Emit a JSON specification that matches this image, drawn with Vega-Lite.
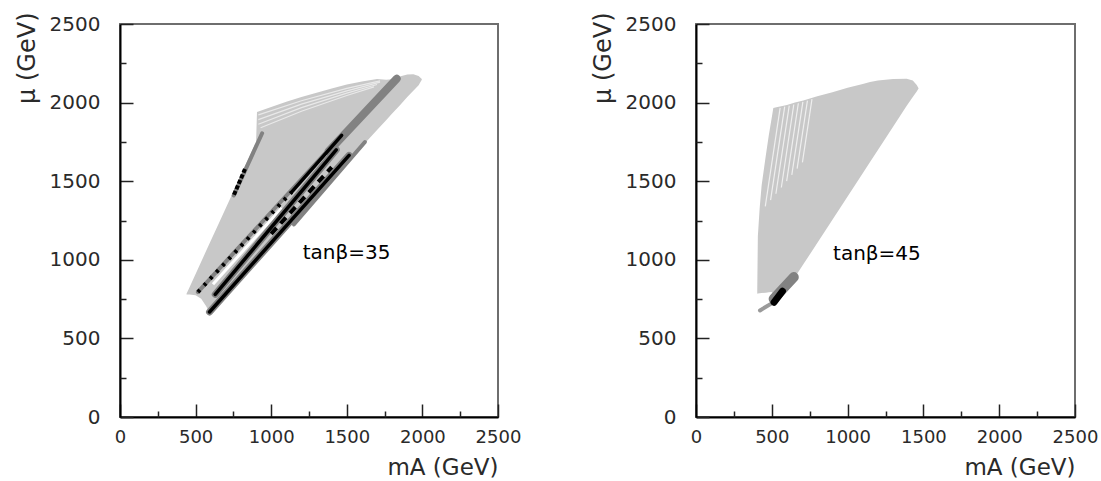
{
  "$schema": "https://vega.github.io/schema/vega-lite/v6.json",
  "padding": {"left": 14, "top": 10, "right": 5, "bottom": 5},
  "spacing": 68,
  "config": {
    "view": {"stroke": "#6e6e6e", "strokeWidth": 2},
    "font": "DejaVu Sans",
    "axis": {"grid": false, "domainColor": "#000", "domainWidth": 2, "tickColor": "#222", "tickWidth": 1.5, "labelFont": "DejaVu Sans", "labelColor": "#2a2a2a", "titleFont": "DejaVu Sans", "titleFontWeight": "normal", "titleColor": "#2a2a2a"}
  },
  "datasets": {
    "area35": [
      {"x": 440, "lo": 780, "hi": 784}, {"x": 460, "lo": 779, "hi": 826}, {"x": 500, "lo": 775, "hi": 910},
      {"x": 537, "lo": 752, "hi": 988}, {"x": 570, "lo": 705, "hi": 1057}, {"x": 592, "lo": 662, "hi": 1103},
      {"x": 650, "lo": 722, "hi": 1225}, {"x": 700, "lo": 775, "hi": 1330}, {"x": 760, "lo": 838, "hi": 1455},
      {"x": 800, "lo": 880, "hi": 1540}, {"x": 850, "lo": 932, "hi": 1645}, {"x": 900, "lo": 985, "hi": 1750},
      {"x": 906, "lo": 991, "hi": 1940}, {"x": 1000, "lo": 1090, "hi": 1972}, {"x": 1100, "lo": 1195, "hi": 2005},
      {"x": 1200, "lo": 1300, "hi": 2035}, {"x": 1300, "lo": 1405, "hi": 2063}, {"x": 1400, "lo": 1510, "hi": 2090},
      {"x": 1500, "lo": 1615, "hi": 2115}, {"x": 1600, "lo": 1720, "hi": 2135}, {"x": 1700, "lo": 1825, "hi": 2150},
      {"x": 1760, "lo": 1888, "hi": 2145}, {"x": 1800, "lo": 1930, "hi": 2148}, {"x": 1850, "lo": 1982, "hi": 2166},
      {"x": 1900, "lo": 2035, "hi": 2178}, {"x": 1940, "lo": 2075, "hi": 2181}, {"x": 1975, "lo": 2110, "hi": 2170},
      {"x": 1996, "lo": 2145, "hi": 2150}
    ],
    "area45": [
      {"x": 404, "lo": 784, "hi": 800}, {"x": 408, "lo": 785, "hi": 1150}, {"x": 420, "lo": 787, "hi": 1330},
      {"x": 433, "lo": 789, "hi": 1474}, {"x": 460, "lo": 791, "hi": 1660}, {"x": 480, "lo": 793, "hi": 1790},
      {"x": 499, "lo": 795, "hi": 1900}, {"x": 510, "lo": 783, "hi": 1966}, {"x": 530, "lo": 768, "hi": 1970},
      {"x": 554, "lo": 755, "hi": 1975}, {"x": 600, "lo": 800, "hi": 1985}, {"x": 653, "lo": 890, "hi": 2000},
      {"x": 708, "lo": 971, "hi": 2014}, {"x": 800, "lo": 1107, "hi": 2040}, {"x": 900, "lo": 1255, "hi": 2066},
      {"x": 1000, "lo": 1403, "hi": 2095}, {"x": 1100, "lo": 1551, "hi": 2118}, {"x": 1148, "lo": 1622, "hi": 2131},
      {"x": 1200, "lo": 1699, "hi": 2140}, {"x": 1300, "lo": 1847, "hi": 2150}, {"x": 1390, "lo": 1980, "hi": 2152},
      {"x": 1430, "lo": 2035, "hi": 2140}, {"x": 1456, "lo": 2070, "hi": 2112}, {"x": 1468, "lo": 2090, "hi": 2092}
    ],
    "seg35": [
      {"s": "gap", "g": "a0", "x": 915, "y": 1922}, {"s": "gap", "g": "a0", "x": 1200, "y": 2012}, {"s": "gap", "g": "a0", "x": 1500, "y": 2090}, {"s": "gap", "g": "a0", "x": 1720, "y": 2138},
      {"s": "gap", "g": "a1", "x": 915, "y": 1892}, {"s": "gap", "g": "a1", "x": 1200, "y": 1990}, {"s": "gap", "g": "a1", "x": 1500, "y": 2075}, {"s": "gap", "g": "a1", "x": 1720, "y": 2130},
      {"s": "gap", "g": "a2", "x": 915, "y": 1862}, {"s": "gap", "g": "a2", "x": 1200, "y": 1968}, {"s": "gap", "g": "a2", "x": 1500, "y": 2060}, {"s": "gap", "g": "a2", "x": 1700, "y": 2115},
      {"s": "gap", "g": "a3", "x": 930, "y": 1840}, {"s": "gap", "g": "a3", "x": 1200, "y": 1945}, {"s": "gap", "g": "a3", "x": 1500, "y": 2045}, {"s": "gap", "g": "a3", "x": 1680, "y": 2100},
      {"s": "gap2", "g": "w1", "x": 615, "y": 845}, {"s": "gap2", "g": "w1", "x": 1070, "y": 1330},
      {"s": "dgu", "g": "u2", "x": 630, "y": 780}, {"s": "dgu", "g": "u2", "x": 1430, "y": 1700},
      {"s": "dgu", "g": "u3", "x": 592, "y": 668}, {"s": "dgu", "g": "u3", "x": 1515, "y": 1664},
      {"s": "dgt", "g": "u1", "x": 515, "y": 795}, {"s": "dgt", "g": "u1", "x": 1466, "y": 1792},
      {"s": "dg", "g": "g3", "x": 752, "y": 1410}, {"s": "dg", "g": "g3", "x": 940, "y": 1805},
      {"s": "dg", "g": "g1", "x": 1150, "y": 1225}, {"s": "dg", "g": "g1", "x": 1620, "y": 1749},
      {"s": "dgw", "g": "g2", "x": 1380, "y": 1690}, {"s": "dgw", "g": "g2", "x": 1830, "y": 2152},
      {"s": "bk", "g": "b2", "x": 630, "y": 780}, {"s": "bk", "g": "b2", "x": 1430, "y": 1700},
      {"s": "bk", "g": "b3", "x": 592, "y": 668}, {"s": "bk", "g": "b3", "x": 1515, "y": 1664},
      {"s": "bk", "g": "b1u", "x": 1135, "y": 1431}, {"s": "bk", "g": "b1u", "x": 1466, "y": 1792},
      {"s": "d1", "g": "b1l", "x": 515, "y": 795}, {"s": "d1", "g": "b1l", "x": 1135, "y": 1431},
      {"s": "d2", "g": "k3", "x": 754, "y": 1414}, {"s": "d2", "g": "k3", "x": 830, "y": 1585},
      {"s": "d3", "g": "m", "x": 1000, "y": 1165}, {"s": "d3", "g": "m", "x": 1400, "y": 1590}
    ],
    "seg45": [
      {"s": "gap", "g": "c1", "x": 457, "y": 1340}, {"s": "gap", "g": "c1", "x": 555, "y": 1967},
      {"s": "gap", "g": "c2", "x": 492, "y": 1380}, {"s": "gap", "g": "c2", "x": 585, "y": 1974},
      {"s": "gap", "g": "c3", "x": 527, "y": 1420}, {"s": "gap", "g": "c3", "x": 615, "y": 1981},
      {"s": "gap", "g": "c4", "x": 563, "y": 1460}, {"s": "gap", "g": "c4", "x": 645, "y": 1988},
      {"s": "gap", "g": "c5", "x": 598, "y": 1500}, {"s": "gap", "g": "c5", "x": 675, "y": 1996},
      {"s": "gap", "g": "c6", "x": 632, "y": 1540}, {"s": "gap", "g": "c6", "x": 705, "y": 2005},
      {"s": "gap", "g": "c7", "x": 667, "y": 1580}, {"s": "gap", "g": "c7", "x": 735, "y": 2013},
      {"s": "gap", "g": "c8", "x": 702, "y": 1620}, {"s": "gap", "g": "c8", "x": 765, "y": 2022},
      {"s": "tail", "g": "t", "x": 422, "y": 678}, {"s": "tail", "g": "t", "x": 505, "y": 726},
      {"s": "dgw", "g": "g", "x": 512, "y": 752}, {"s": "dgw", "g": "g", "x": 645, "y": 890},
      {"s": "bk", "g": "b", "x": 515, "y": 730}, {"s": "bk", "g": "b", "x": 570, "y": 800}
    ],
    "labels": [
      {"p": "35", "x": 1208, "y": 1046, "t": "tanβ=35"},
      {"p": "45", "x": 904, "y": 1040, "t": "tanβ=45"}
    ]
  },
  "hconcat": [
    {
      "width": 378, "height": 393,
      "resolve": {"axis": {"x": "independent", "y": "independent"}},
      "layer": [
        {
          "data": {"name": "area35"},
          "mark": {"type": "area", "color": "#c8c8c8"},
          "encoding": {
            "x": {"field": "x", "type": "quantitative", "scale": {"domain": [0, 2500], "nice": false},
              "axis": {"orient": "bottom", "values": [0, 500, 1000, 1500, 2000, 2500], "format": "d", "tickSize": -13, "labelPadding": 24, "labelFontSize": 18, "labelFlush": false, "title": "mA (GeV)", "titleAnchor": "end", "titleFontSize": 23, "titlePadding": 10}},
            "y": {"field": "lo", "type": "quantitative", "scale": {"domain": [0, 2500], "nice": false},
              "axis": {"orient": "left", "values": [0, 500, 1000, 1500, 2000, 2500], "format": "d", "tickSize": -13, "labelPadding": 33, "labelFontSize": 20, "title": "μ (GeV)", "titleAnchor": "end", "titleY": -12, "titleFontSize": 24, "titlePadding": 10}},
            "y2": {"field": "hi"}
          }
        },
        {
          "data": {"name": "seg35"},
          "transform": [{"filter": "datum.s === 'gap'"}],
          "mark": {"type": "line", "color": "#ffffff", "strokeWidth": 1.2, "opacity": 0.6},
          "encoding": {
            "x": {"field": "x", "type": "quantitative", "axis": {"orient": "bottom", "values": [250, 750, 1250, 1750, 2250], "tickSize": -6, "labels": false, "domain": false, "title": null}},
            "y": {"field": "y", "type": "quantitative", "axis": {"orient": "left", "values": [250, 750, 1250, 1750, 2250], "tickSize": -6, "labels": false, "domain": false, "title": null}},
            "detail": {"field": "g"}
          }
        },
        {
          "data": {"name": "seg35"},
          "transform": [{"filter": "datum.s === 'gap2'"}],
          "mark": {"type": "line", "color": "#ffffff", "strokeWidth": 3},
          "encoding": {"x": {"field": "x", "type": "quantitative", "axis": null}, "y": {"field": "y", "type": "quantitative", "axis": null}, "detail": {"field": "g"}}
        },
        {
          "data": {"name": "seg35"},
          "transform": [{"filter": "datum.s === 'dgu'"}],
          "mark": {"type": "line", "color": "#828282", "strokeWidth": 7, "strokeCap": "round"},
          "encoding": {"x": {"field": "x", "type": "quantitative", "axis": null}, "y": {"field": "y", "type": "quantitative", "axis": null}, "detail": {"field": "g"}}
        },
        {
          "data": {"name": "seg35"},
          "transform": [{"filter": "datum.s === 'dgt' || datum.s === 'dg'"}],
          "mark": {"type": "line", "color": "#828282", "strokeWidth": 4, "strokeCap": "round"},
          "encoding": {"x": {"field": "x", "type": "quantitative", "axis": null}, "y": {"field": "y", "type": "quantitative", "axis": null}, "detail": {"field": "g"}}
        },
        {
          "data": {"name": "seg35"},
          "transform": [{"filter": "datum.s === 'dgw'"}],
          "mark": {"type": "line", "color": "#828282", "strokeWidth": 8, "strokeCap": "round"},
          "encoding": {"x": {"field": "x", "type": "quantitative", "axis": null}, "y": {"field": "y", "type": "quantitative", "axis": null}, "detail": {"field": "g"}}
        },
        {
          "data": {"name": "seg35"},
          "transform": [{"filter": "datum.s === 'bk'"}],
          "mark": {"type": "line", "color": "#000000", "strokeWidth": 3.5, "strokeCap": "round"},
          "encoding": {"x": {"field": "x", "type": "quantitative", "axis": null}, "y": {"field": "y", "type": "quantitative", "axis": null}, "detail": {"field": "g"}}
        },
        {
          "data": {"name": "seg35"},
          "transform": [{"filter": "datum.s === 'd1' || datum.s === 'd2' || datum.s === 'd3'"}],
          "mark": {"type": "line", "color": "#000000", "strokeWidth": 4},
          "encoding": {
            "x": {"field": "x", "type": "quantitative", "axis": null}, "y": {"field": "y", "type": "quantitative", "axis": null},
            "detail": {"field": "g"},
            "strokeDash": {"field": "s", "type": "nominal", "scale": {"domain": ["d1", "d2", "d3"], "range": [[3, 6], [4, 2], [8, 6]]}, "legend": null}
          }
        },
        {
          "data": {"name": "labels"},
          "transform": [{"filter": "datum.p === '35'"}],
          "mark": {"type": "text", "align": "left", "baseline": "middle", "fontSize": 20, "font": "DejaVu Sans", "color": "#000"},
          "encoding": {"x": {"field": "x", "type": "quantitative", "axis": null}, "y": {"field": "y", "type": "quantitative", "axis": null}, "text": {"field": "t"}}
        }
      ]
    },
    {
      "width": 379, "height": 393,
      "resolve": {"axis": {"x": "independent", "y": "independent"}},
      "layer": [
        {
          "data": {"name": "area45"},
          "mark": {"type": "area", "color": "#c8c8c8"},
          "encoding": {
            "x": {"field": "x", "type": "quantitative", "scale": {"domain": [0, 2500], "nice": false},
              "axis": {"orient": "bottom", "values": [0, 500, 1000, 1500, 2000, 2500], "format": "d", "tickSize": -13, "labelPadding": 24, "labelFontSize": 18, "labelFlush": false, "title": "mA (GeV)", "titleAnchor": "end", "titleFontSize": 23, "titlePadding": 10}},
            "y": {"field": "lo", "type": "quantitative", "scale": {"domain": [0, 2500], "nice": false},
              "axis": {"orient": "left", "values": [0, 500, 1000, 1500, 2000, 2500], "format": "d", "tickSize": -13, "labelPadding": 33, "labelFontSize": 20, "title": "μ (GeV)", "titleAnchor": "end", "titleY": -12, "titleFontSize": 24, "titlePadding": 10}},
            "y2": {"field": "hi"}
          }
        },
        {
          "data": {"name": "seg45"},
          "transform": [{"filter": "datum.s === 'gap'"}],
          "mark": {"type": "line", "color": "#ffffff", "strokeWidth": 1.2, "opacity": 0.7},
          "encoding": {
            "x": {"field": "x", "type": "quantitative", "axis": {"orient": "bottom", "values": [250, 750, 1250, 1750, 2250], "tickSize": -6, "labels": false, "domain": false, "title": null}},
            "y": {"field": "y", "type": "quantitative", "axis": {"orient": "left", "values": [250, 750, 1250, 1750, 2250], "tickSize": -6, "labels": false, "domain": false, "title": null}},
            "detail": {"field": "g"}
          }
        },
        {
          "data": {"name": "seg45"},
          "transform": [{"filter": "datum.s === 'tail'"}],
          "mark": {"type": "line", "color": "#9a9a9a", "strokeWidth": 4, "strokeCap": "round"},
          "encoding": {"x": {"field": "x", "type": "quantitative", "axis": null}, "y": {"field": "y", "type": "quantitative", "axis": null}, "detail": {"field": "g"}}
        },
        {
          "data": {"name": "seg45"},
          "transform": [{"filter": "datum.s === 'dgw'"}],
          "mark": {"type": "line", "color": "#828282", "strokeWidth": 10, "strokeCap": "round"},
          "encoding": {"x": {"field": "x", "type": "quantitative", "axis": null}, "y": {"field": "y", "type": "quantitative", "axis": null}, "detail": {"field": "g"}}
        },
        {
          "data": {"name": "seg45"},
          "transform": [{"filter": "datum.s === 'bk'"}],
          "mark": {"type": "line", "color": "#000000", "strokeWidth": 7, "strokeCap": "round"},
          "encoding": {"x": {"field": "x", "type": "quantitative", "axis": null}, "y": {"field": "y", "type": "quantitative", "axis": null}, "detail": {"field": "g"}}
        },
        {
          "data": {"name": "labels"},
          "transform": [{"filter": "datum.p === '45'"}],
          "mark": {"type": "text", "align": "left", "baseline": "middle", "fontSize": 20, "font": "DejaVu Sans", "color": "#000"},
          "encoding": {"x": {"field": "x", "type": "quantitative", "axis": null}, "y": {"field": "y", "type": "quantitative", "axis": null}, "text": {"field": "t"}}
        }
      ]
    }
  ]
}
